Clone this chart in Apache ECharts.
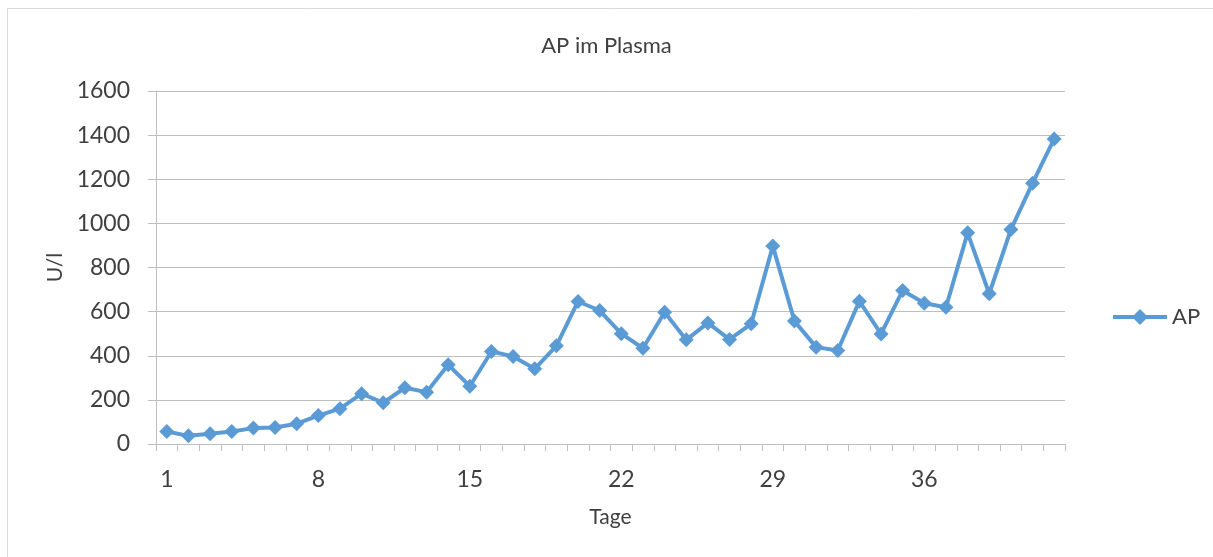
<!DOCTYPE html>
<html>
<head>
<meta charset="utf-8">
<title>AP im Plasma</title>
<script src="https://cdn.jsdelivr.net/npm/echarts@6/dist/echarts.min.js"></script>
<style>
  html, body { margin: 0; padding: 0; background: #ffffff; }
  #chart { width: 1213px; height: 557px; }
</style>
</head>
<body>
<div id="chart"></div>
<script>
// Tage (Messtage)
const days = ['1','2','3','4','5','6','7','8','9','10','11','12','13','14',
  '15','16','17','18','19','20','21','22','23','24','25','26','27','28',
  '29','30','31','32','33','34','35','36','37','38','39','40','41','42'];

// Alkalische Phosphatase im Plasma, U/l
const apValues = [57, 37, 46, 57, 72, 75, 92, 129, 160, 228, 187, 255, 235, 359,
  262, 419, 397, 341, 445, 646, 605, 500, 434, 597, 472, 549, 474, 545,
  897, 557, 439, 424, 647, 499, 696, 638, 620, 957, 681, 972, 1182, 1383];

// y-axis scale
const yMin = 0;
const yMax = 1600;
const yStep = 200;

const FONT = 'Lato, "Open Sans", sans-serif';
const TEXT = '#404040';
const RULE = '#bfbfbf';
const BLUE = '#5b9bd5';

const chart = echarts.init(document.getElementById('chart'), null, { renderer: 'canvas' });

chart.setOption({
  backgroundColor: '#ffffff',
  animation: false,
  graphic: [{
    type: 'rect',
    shape: { x: 7.5, y: 8.5, width: 1300, height: 700 },
    style: { fill: 'none', stroke: '#d9d9d9', lineWidth: 1 },
    silent: true
  }],
  title: {
    text: 'AP im Plasma',
    left: 'center',
    top: 30,
    textStyle: { fontFamily: FONT, fontSize: 22, fontWeight: 'normal', color: TEXT }
  },
  legend: {
    data: ['AP'],
    left: 1106,
    top: 301,
    itemWidth: 54,
    itemHeight: 20,
    lineStyle: { width: 4 },
    textStyle: { fontFamily: FONT, fontSize: 22, color: TEXT }
  },
  grid: { left: 156, right: 148, top: 91, bottom: 113, containLabel: false },
  xAxis: {
    type: 'category',
    data: days,
    boundaryGap: true,
    name: 'Tage',
    nameLocation: 'middle',
    nameGap: 63,
    nameTextStyle: { fontFamily: FONT, fontSize: 21, color: TEXT },
    axisLine: { lineStyle: { color: RULE, width: 1 } },
    axisTick: { show: true, interval: 0, alignWithLabel: false, length: 7, lineStyle: { color: RULE } },
    axisLabel: { interval: 6, margin: 24, fontFamily: FONT, fontSize: 23, color: TEXT },
    splitLine: { show: false }
  },
  yAxis: {
    type: 'value',
    min: yMin,
    max: yMax,
    interval: yStep,
    name: 'U/l',
    nameLocation: 'middle',
    nameGap: 82,
    nameRotate: 90,
    nameTextStyle: { fontFamily: FONT, fontSize: 21, color: TEXT },
    axisLine: { show: true, lineStyle: { color: RULE, width: 1 } },
    axisTick: { show: true, length: 8, lineStyle: { color: RULE } },
    axisLabel: {
      margin: 26, fontFamily: FONT, fontSize: 23, color: TEXT,
      formatter: (v) => String(v)
    },
    splitLine: { show: true, lineStyle: { color: RULE, width: 1 } }
  },
  series: [{
    name: 'AP',
    type: 'line',
    data: apValues,
    symbol: 'diamond',
    symbolSize: 15,
    showAllSymbol: true,
    lineStyle: { color: BLUE, width: 4 },
    itemStyle: { color: BLUE, borderColor: BLUE, borderWidth: 0 },
    emphasis: { disabled: true }
  }]
});
</script>
</body>
</html>
